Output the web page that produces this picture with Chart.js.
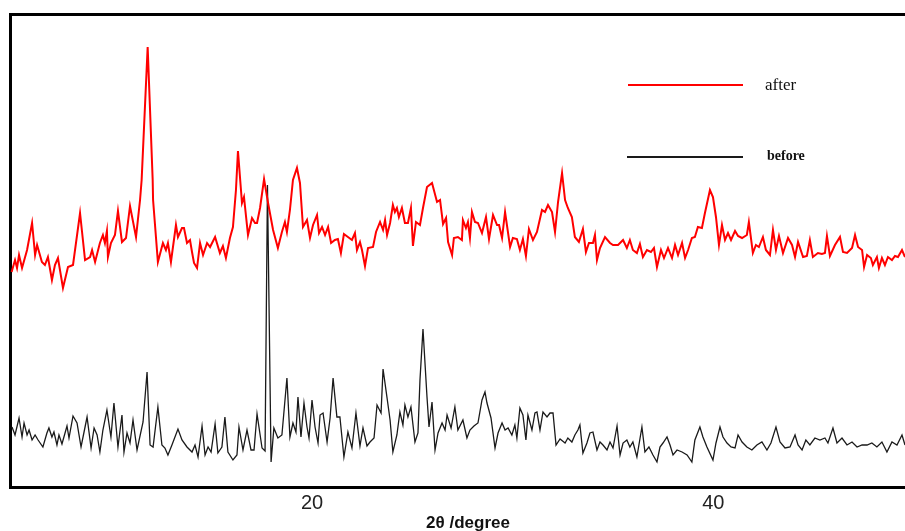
<!DOCTYPE html>
<html>
<head>
<meta charset="utf-8">
<script src="https://cdn.jsdelivr.net/npm/chart.js@4/dist/chart.umd.min.js"></script>
<style>
  html, body { margin: 0; padding: 0; background: #fff; }
  canvas { display: block; }
</style>
</head>
<body>
<canvas id="xrd" width="905" height="531"></canvas>
<script>
// 2θ (degree) and intensity (a.u.) for the sample after treatment
const afterAngle = [5.03,5.20,5.30,5.40,5.55,5.80,6.05,6.20,6.30,6.54,6.69,6.84,7.04,7.19,7.34,7.59,7.84,8.09,8.44,8.69,8.94,9.04,9.19,9.43,9.58,9.68,9.78,9.83,9.98,10.18,10.33,10.53,10.73,10.93,11.23,11.43,11.51,11.81,12.06,12.08,12.32,12.57,12.72,12.82,12.97,13.22,13.32,13.52,13.62,13.77,13.92,14.02,14.12,14.27,14.42,14.57,14.77,14.92,15.17,15.41,15.56,15.71,15.91,16.06,16.21,16.31,16.51,16.61,16.81,17.01,17.16,17.26,17.41,17.61,17.81,18.06,18.30,18.50,18.65,18.75,18.90,19.05,19.25,19.40,19.55,19.75,19.90,20.05,20.25,20.35,20.50,20.65,20.80,20.95,21.14,21.29,21.44,21.59,21.79,21.99,22.14,22.24,22.39,22.49,22.64,22.79,23.04,23.19,23.39,23.54,23.64,23.74,23.89,24.03,24.13,24.23,24.33,24.48,24.63,24.78,24.93,25.03,25.18,25.38,25.53,25.73,25.98,26.23,26.38,26.53,26.68,26.78,26.98,27.07,27.27,27.47,27.52,27.67,27.77,27.87,27.97,28.12,28.27,28.47,28.67,28.82,29.02,29.22,29.32,29.47,29.62,29.87,30.01,30.21,30.36,30.51,30.66,30.81,31.01,31.21,31.46,31.61,31.76,31.96,32.11,32.26,32.46,32.61,32.75,32.95,33.10,33.30,33.50,33.65,33.80,34.00,34.10,34.20,34.35,34.60,34.85,35.00,35.25,35.50,35.69,35.84,35.99,36.19,36.34,36.49,36.69,36.89,37.04,37.19,37.39,37.54,37.74,37.94,38.09,38.24,38.44,38.59,38.74,38.93,39.08,39.23,39.43,39.58,39.83,39.98,40.13,40.28,40.43,40.58,40.73,40.88,41.08,41.23,41.43,41.67,41.77,41.97,42.12,42.27,42.47,42.62,42.82,42.97,43.12,43.27,43.47,43.72,43.92,44.07,44.22,44.47,44.66,44.81,44.96,45.21,45.41,45.56,45.66,45.81,46.06,46.31,46.46,46.66,46.91,47.06,47.21,47.41,47.51,47.66,47.85,47.95,48.15,48.25,48.40,48.55,48.70,48.90,49.05,49.20,49.40,49.55];
const afterIntensity = [215,227,219,232,219,237,264,232,242,225,222,230,207,222,229,199,220,222,274,227,230,237,225,244,252,244,256,230,244,252,276,245,249,281,250,287,307,440,307,287,225,244,237,244,225,262,250,259,259,244,247,235,224,219,244,232,244,240,250,234,241,229,249,260,297,336,284,290,252,269,264,264,279,308,284,257,239,255,265,255,277,307,319,304,260,267,249,262,272,254,260,252,260,244,247,248,234,253,250,247,254,237,245,237,221,239,240,255,265,257,267,252,264,282,275,279,270,279,264,264,279,241,265,262,279,300,304,285,287,263,269,245,232,249,250,247,267,259,265,249,275,265,264,254,270,248,272,262,262,249,275,240,249,248,237,248,231,258,247,255,277,275,282,275,255,285,314,287,279,270,250,245,258,235,244,244,252,227,239,250,244,242,242,247,239,247,237,234,243,230,237,235,239,220,237,229,239,229,242,232,244,229,237,249,250,260,259,274,297,290,270,242,262,247,254,247,256,251,249,252,265,234,242,240,250,237,232,257,237,251,234,249,242,230,245,230,231,247,230,234,233,234,251,231,242,250,235,234,239,252,240,237,220,232,229,222,230,219,229,222,230,227,231,230,237,230];

// 2θ (degree) and intensity (a.u.) for the sample before treatment
const beforeAngle = [5.05,5.20,5.40,5.55,5.65,5.80,5.90,6.05,6.20,6.35,6.59,6.79,6.89,7.04,7.14,7.29,7.39,7.54,7.79,7.89,8.09,8.29,8.49,8.64,8.79,8.99,9.14,9.29,9.43,9.58,9.78,9.98,10.13,10.33,10.53,10.63,10.78,10.93,11.08,11.28,11.58,11.78,11.93,12.08,12.32,12.52,12.67,12.82,13.02,13.32,13.52,13.77,14.02,14.17,14.32,14.52,14.67,14.82,14.97,15.17,15.31,15.51,15.66,15.81,16.06,16.26,16.36,16.56,16.76,16.96,17.11,17.26,17.51,17.66,17.78,17.96,18.10,18.30,18.50,18.75,18.90,19.05,19.20,19.30,19.45,19.60,19.75,19.85,20.00,20.15,20.30,20.40,20.55,20.75,20.90,21.05,21.24,21.39,21.59,21.79,21.99,22.19,22.39,22.54,22.74,22.89,23.09,23.24,23.44,23.54,23.74,23.89,24.03,24.23,24.38,24.53,24.63,24.78,24.93,25.13,25.28,25.38,25.53,25.73,25.83,25.98,26.13,26.28,26.48,26.63,26.73,26.93,27.12,27.27,27.52,27.72,27.87,28.07,28.27,28.47,28.62,28.72,28.92,29.12,29.27,29.47,29.62,29.77,29.96,30.11,30.21,30.36,30.51,30.66,30.76,30.96,31.11,31.21,31.36,31.51,31.71,31.86,32.01,32.16,32.36,32.61,32.75,32.95,33.10,33.25,33.35,33.50,33.70,33.85,34.00,34.20,34.35,34.50,34.70,34.85,35.00,35.20,35.35,35.50,35.69,35.84,35.99,36.19,36.44,36.59,36.79,36.99,37.19,37.34,37.49,37.69,37.84,37.99,38.19,38.44,38.69,38.93,39.08,39.33,39.48,39.68,39.98,40.13,40.33,40.48,40.68,40.88,41.08,41.23,41.43,41.67,41.92,42.17,42.42,42.67,42.87,43.12,43.32,43.57,43.82,44.07,44.22,44.42,44.61,44.81,45.06,45.31,45.56,45.71,45.96,46.16,46.41,46.66,46.91,47.16,47.41,47.66,47.90,48.15,48.40,48.65,48.90,49.15,49.40,49.55];
const beforeIntensity = [60,52,69,50,64,52,57,47,52,47,40,54,59,50,55,42,52,43,61,49,71,64,40,55,70,39,59,52,35,57,77,50,84,40,72,35,54,44,67,37,65,115,42,40,80,42,39,32,42,58,47,40,35,42,30,61,32,40,35,63,34,40,70,35,27,32,60,37,57,37,37,73,39,36,302,25,59,49,52,109,50,64,55,90,50,84,60,49,87,60,44,72,74,45,69,109,70,70,30,55,39,74,41,59,41,45,49,82,74,118,89,67,35,52,75,62,82,70,80,45,54,107,158,90,60,85,37,54,64,57,72,59,80,57,67,49,57,61,64,87,95,84,69,39,54,64,57,59,52,62,49,79,72,47,72,57,74,75,57,75,70,74,74,42,48,44,49,45,52,57,62,34,44,54,55,37,45,42,37,45,39,61,32,44,47,40,45,30,60,35,40,32,25,40,44,50,42,32,37,35,32,25,47,60,50,40,27,44,60,50,44,40,39,52,45,40,37,42,45,37,44,60,45,39,40,52,42,37,47,42,49,47,49,44,59,44,49,42,45,40,42,42,44,40,45,35,45,42,52,42];

const xTicks = [20, 40];
const angleMin = 4.95;
const angleMax = 49.55;

const toPoints = (xs, ys) => xs.map((x, i) => ({ x, y: ys[i] }));

// hand-drawn legend and axis title
const annotations = {
  id: 'annotations',
  afterDraw(chart) {
    const ctx = chart.ctx;
    const sets = chart.data.datasets;
    const rows = [
      { ds: sets[0], x0: 628, x1: 743, y: 85, tx: 765, ty: 90, font: '17px "Liberation Serif", "DejaVu Serif", serif' },
      { ds: sets[1], x0: 627, x1: 743, y: 157, tx: 767, ty: 160, font: 'bold 14px "Liberation Serif", "DejaVu Serif", serif' }
    ];
    ctx.save();
    rows.forEach(r => {
      ctx.strokeStyle = r.ds.borderColor;
      ctx.lineWidth = 2;
      ctx.beginPath();
      ctx.moveTo(r.x0, r.y);
      ctx.lineTo(r.x1, r.y);
      ctx.stroke();
      ctx.fillStyle = '#111';
      ctx.font = r.font;
      ctx.textAlign = 'left';
      ctx.textBaseline = 'alphabetic';
      ctx.fillText(r.ds.label, r.tx, r.ty);
    });
    ctx.font = 'bold 17px "Liberation Sans Narrow", "Liberation Sans", Arial, sans-serif';
    ctx.fillStyle = '#111';
    ctx.textAlign = 'center';
    ctx.fillText('2θ /degree', 468, 528);
    ctx.restore();
  }
};

new Chart(document.getElementById('xrd'), {
  type: 'line',
  data: {
    datasets: [
      {
        label: 'after',
        data: toPoints(afterAngle, afterIntensity),
        borderColor: '#ff0000',
        borderWidth: 2,
        pointRadius: 0,
        tension: 0
      },
      {
        label: 'before',
        data: toPoints(beforeAngle, beforeIntensity),
        borderColor: '#1a1a1a',
        borderWidth: 1.3,
        pointRadius: 0,
        tension: 0
      }
    ]
  },
  options: {
    responsive: false,
    animation: false,
    devicePixelRatio: 1,
    layout: { padding: 0 },
    plugins: {
      legend: { display: false },
      tooltip: { enabled: false }
    },
    scales: {
      x: {
        type: 'linear',
        position: 'bottom',
        min: angleMin,
        max: angleMax,
        grid: { display: false, drawTicks: false },
        border: { display: true, color: '#000', width: 3 },
        ticks: {
          color: '#222',
          padding: 4,
          font: { family: '"Liberation Sans", Arial, sans-serif', size: 20 }
        },
        afterBuildTicks: scale => { scale.ticks = xTicks.map(v => ({ value: v })); },
        afterFit: scale => { scale.height = 44; }
      },
      xTop: {
        type: 'linear',
        position: 'top',
        min: angleMin,
        max: angleMax,
        grid: { display: false, drawTicks: false },
        border: { display: true, color: '#000', width: 3 },
        ticks: { display: false },
        afterFit: scale => { scale.height = 14; }
      },
      y: {
        type: 'linear',
        min: 0,
        max: 473,
        grid: { display: false, drawTicks: false },
        border: { display: true, color: '#000', width: 3 },
        ticks: { display: false },
        afterFit: scale => { scale.width = 10; }
      }
    }
  },
  plugins: [annotations]
});
</script>
</body>
</html>
